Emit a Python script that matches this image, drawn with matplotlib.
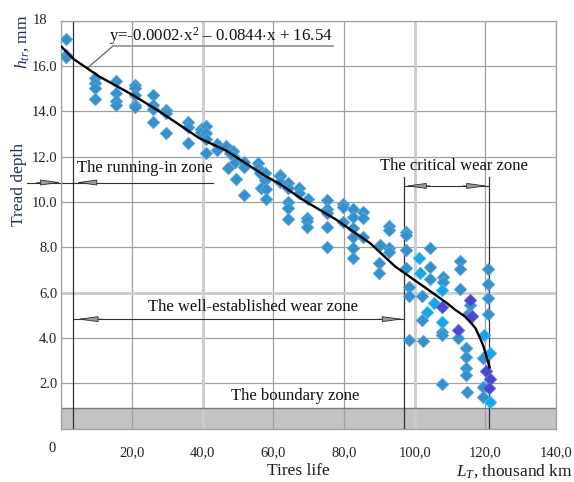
import matplotlib
matplotlib.use('Agg')
import matplotlib.pyplot as plt

plt.rcParams['font.family'] = ['Liberation Serif', 'DejaVu Serif']
plt.rcParams['mathtext.fontset'] = 'custom'
plt.rcParams['mathtext.rm'] = 'Liberation Serif'
plt.rcParams['mathtext.it'] = 'Liberation Serif:italic'

# ---- data ----
blue_x = [1.2, 1.2, 1.2,
          9.4, 9.4, 9.4, 9.4,
          15.4, 15.4, 15.4, 15.4,
          20.8, 20.8, 20.8, 20.8, 20.8,
          25.8, 25.8, 25.8, 25.8,
          29.6, 29.6, 29.6,
          35.7, 35.7, 35.7,
          39.5, 39.5,
          41.0, 41.0, 41.0, 41.0,
          44.0, 44.0,
          46.6, 47.1, 47.6,
          48.7, 48.7, 49.3, 49.0,
          51.8, 51.8, 51.8,
          55.6, 55.6, 56.1, 57.5, 57.5, 56.6, 57.8, 57.8,
          62.0, 62.0, 62.0,
          64.1, 64.1, 64.1, 64.1, 64.1,
          67.3, 67.3, 69.8, 69.5, 69.5, 69.5,
          75.2, 75.2, 75.2, 75.2, 75.2,
          79.8, 79.8, 79.8,
          82.6, 82.6, 82.6, 82.6, 82.6, 82.6,
          85.3, 85.3, 85.3,
          90.2, 90.0, 90.0,
          92.6, 92.6, 92.6, 92.6,
          97.5, 97.5, 97.6, 97.6, 98.4, 98.4, 98.5,
          102.0, 102.0, 102.3,
          104.4, 104.4, 104.4,
          107.9, 107.9, 107.7, 107.7, 107.7,
          112.9, 112.9, 112.9, 112.4,
          115.0, 115.8, 114.5, 114.5, 114.5, 114.5, 114.7,
          120.8, 120.8, 120.8, 120.8,
          119.4, 119.4, 119.4]
blue_y = [17.2, 16.5, 16.4,
          15.47, 15.24, 15.02, 14.55,
          15.32, 14.8, 14.46, 14.28,
          15.17, 15.05, 14.73, 14.29, 14.18,
          14.73, 14.26, 14.12, 13.55,
          14.07, 13.92, 13.04,
          13.55, 13.33, 12.6,
          13.21, 13.1,
          13.36, 13.04, 12.8, 12.18,
          12.55, 12.3,
          12.48, 11.49, 12.15,
          12.27, 12.04, 11.0, 11.78,
          11.78, 11.56, 10.3,
          11.74, 11.5, 11.3, 11.27, 10.98, 10.61, 10.57, 10.12,
          11.2, 11.15, 10.9,
          10.83, 10.6, 10.02, 9.73, 9.24,
          10.61, 10.39, 10.12, 9.28, 9.16, 8.89,
          10.09, 9.68, 9.5, 8.89, 8.03,
          9.92, 9.8, 9.13,
          9.68, 9.36, 8.84, 8.47, 7.96, 7.52,
          9.58, 9.28, 8.45,
          8.1, 7.3, 6.86,
          8.94, 8.77, 7.96, 7.8,
          8.67, 8.53, 7.89, 7.1, 6.27, 5.87, 3.91,
          5.87, 4.8, 3.87,
          7.99, 7.15, 6.6,
          6.71, 6.45, 4.28, 4.13, 1.96,
          7.4, 7.05, 6.16, 4.01,
          5.05, 5.46, 3.57, 3.17, 2.66, 2.37, 1.6,
          7.05, 6.37, 5.78, 5.05,
          3.13, 1.85, 1.41]

cyan_x = [101.3, 101.5, 105.6, 103.5, 107.8, 107.7, 119.6, 121.4, 121.4]
cyan_y = [7.55, 6.86, 5.53, 5.13, 6.12, 4.72, 4.13, 3.32, 1.19]

purple_x = [107.7, 112.3, 115.8, 116.1, 120.1, 121.4, 121.0]
purple_y = [5.38, 4.35, 5.68, 4.95, 2.54, 2.19, 1.78]

curve_x = [0, 3.5, 10.7, 20.1, 27.7, 39, 46.6, 58, 61.8, 68.4, 77.9, 87.4,
           94.5, 103.9, 109.2, 111.5, 114.3, 116.2, 117.2, 118.1, 119.3,
           120.2, 121.2]
curve_y = [16.85, 16.3, 15.54, 14.73, 14.0, 12.82, 12.27, 11.12, 10.8, 10.09,
           9.21, 8.18, 7.15, 6.12, 5.53, 5.24, 4.94, 4.62, 4.43, 4.13, 3.7,
           3.25, 2.7]

x_ticks = [0, 20, 40, 60, 80, 100, 120, 140]
x_labels = ['', '20,0', '40,0', '60,0', '80,0', '100,0', '120,0', '140,0']
y_ticks = [0, 2, 4, 6, 8, 10, 12, 14, 16, 18]
y_labels = ['', '2.0', '4.0', '6.0', '8.0', '10.0', '12.0', '14.0', '16.0', '']

equation = r'y=-0.0002$\cdot$x$^2$ – 0.0844$\cdot$x + 16.54'

# ---- figure ----
fig = plt.figure(figsize=(5.74, 4.82), dpi=100)
ax = fig.add_axes([0.1071, 0.1108, 0.8615, 0.8462])
ax.set_xlim(0, 140)
ax.set_ylim(0, 18)

ax.set_xticks(x_ticks)
ax.set_xticklabels(x_labels)
ax.set_yticks(y_ticks)
ax.set_yticklabels(y_labels)
ax.tick_params(axis='both', length=0, labelsize=10.5, colors='#222222')
ax.tick_params(axis='x', pad=13)
ax.tick_params(axis='y', pad=3)
ax.set_axisbelow(True)
ax.grid(True, color='#a0a0a0', lw=0.9)
for s in ax.spines.values():
    s.set_color('#a0a0a0')
    s.set_linewidth(0.9)

# lighter thicker grid lines
for xv in (40, 100):
    ax.axvline(xv, color='#cccccc', lw=2.0, zorder=0.6)
ax.axhline(6, color='#cccccc', lw=2.0, zorder=0.6)

# boundary band
ax.axhspan(0, 0.9, color='#c3c3c3', zorder=0.3, lw=0)
ax.axhline(0.9, color='#7a7a7a', lw=1.0, zorder=0.7)

# vertical zone lines
ax.plot([3.35, 3.35], [0, 18], color='#303030', lw=0.9, zorder=1)
ax.plot([97, 97], [0, 11.1], color='#303030', lw=0.9, zorder=1)
ax.plot([121, 121], [0, 11.1], color='#303030', lw=0.9, zorder=1)

# scatter
mk = dict(marker='D', s=40, linewidths=0.6, zorder=3)
ax.scatter(blue_x, blue_y, color='#3590cc', edgecolors='#5aa6dc', **mk)
ax.scatter(cyan_x, cyan_y, color='#18a6ea', edgecolors='#40bdf2', **mk)
ax.scatter(purple_x, purple_y, color='#4747d0', edgecolors='#6a6ade', **mk)

# trend curve
ax.plot(curve_x, curve_y, color='black', lw=1.7, zorder=4)

# equation with leader
ax.plot([7.3, 14.7], [15.91, 16.9], color='#6a6a6a', lw=0.9, zorder=2)
ax.plot([14.7, 76.8], [16.9, 16.9], color='#9a9a9a', lw=1.3, zorder=2)
ax.text(13.5, 17.1, equation, fontsize=12.2, ha='left', va='baseline', color='#111111')

# dimension lines
arrow = dict(arrowstyle='-|>,head_length=1.3,head_width=0.18', color='#303030',
             lw=0.6, shrinkA=0, shrinkB=0, fc='#9a9a9a')
# running-in zone
ax.plot([-9.8, 42.8], [10.86, 10.86], color='#303030', lw=0.8, clip_on=False, zorder=2)
ax.annotate('', xy=(0, 10.86), xytext=(-7, 10.86), arrowprops=arrow, annotation_clip=False)
ax.annotate('', xy=(4.0, 10.86), xytext=(9.5, 10.86), arrowprops=arrow)
# well-established
ax.plot([3.35, 97], [4.83, 4.83], color='#303030', lw=0.8, zorder=2)
ax.annotate('', xy=(4.4, 4.83), xytext=(11.5, 4.83), arrowprops=arrow)
ax.annotate('', xy=(96.8, 4.83), xytext=(89.8, 4.83), arrowprops=arrow)
# critical
ax.plot([97, 121], [10.71, 10.71], color='#303030', lw=0.8, zorder=2)
ax.annotate('', xy=(97.3, 10.71), xytext=(104.4, 10.71), arrowprops=arrow)
ax.annotate('', xy=(120.7, 10.71), xytext=(113.6, 10.71), arrowprops=arrow)

tk = dict(fontsize=12, color='#111111', ha='center', va='center', zorder=5)
ax.text(23.5, 11.49, 'The running-in zone', **tk)
ax.text(111.2, 11.6, 'The critical wear zone', **tk)
ax.text(54.1, 5.38, 'The well-established wear zone', **tk)
ax.text(66.3, 1.44, 'The boundary zone', **tk)

# extra tick texts
ytr = ax.get_yaxis_transform()
ax.text(-0.029, 18, '18', transform=ytr, ha='right', va='center', fontsize=10.5,
        color='#222222', clip_on=False)
ax.text(-0.019, -0.86, '0', transform=ytr, ha='center', va='center', fontsize=10.5,
        color='#222222', clip_on=False)

# axis labels
fig.text(0.0331, 0.6183, 'Tread depth', rotation=90, ha='center', va='center',
         fontsize=12.5, color='#1f2f5a')
fig.text(0.0383, 0.9129, r'$h_{tr}$, mm', rotation=90, ha='center', va='center',
         fontsize=12.5, color='#1f2f5a')
fig.text(0.519, 0.0228, 'Tires life', ha='center', va='center', fontsize=12.5,
         color='#1a1a1a')
fig.text(0.997, 0.0228, r'$L_T$, thousand km', ha='right', va='center', fontsize=12.5,
         color='#1a1a1a')

fig.savefig('out.png', dpi=100)
